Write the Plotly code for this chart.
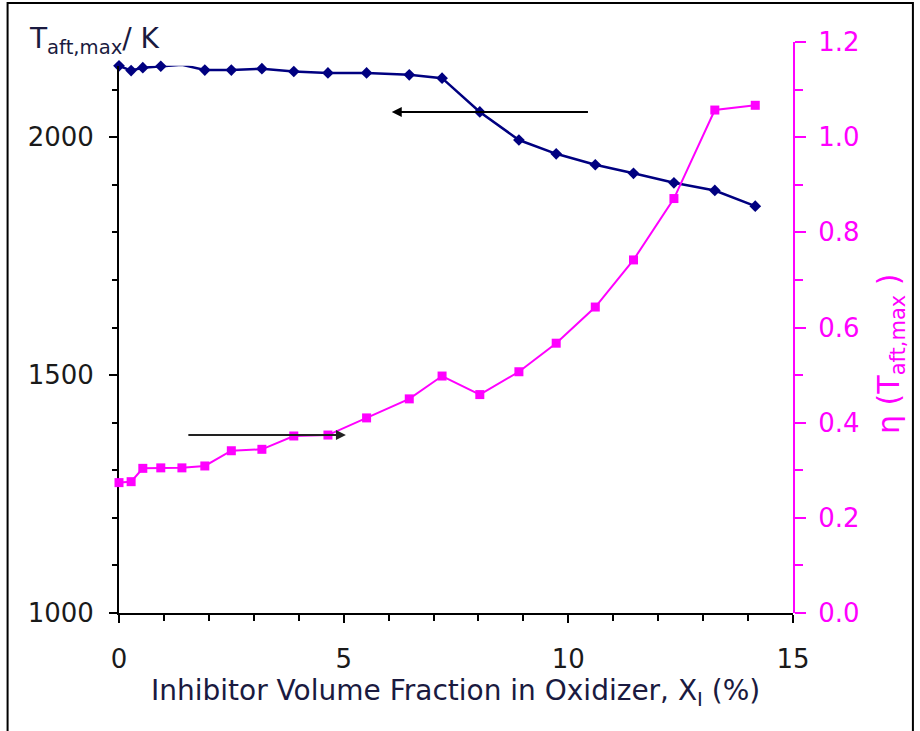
import plotly.graph_objects as go

# ---- data ----
x_inhib = [0, 0.27, 0.53, 0.93, 1.4, 1.91, 2.5, 3.18, 3.89, 4.65, 5.51,
           6.46, 7.19, 8.03, 8.9, 9.73, 10.6, 11.45, 12.35, 13.26, 14.16]
t_aft_max = [2150, 2140, 2146, 2149, 2152, 2141, 2141, 2144, 2138, 2135, 2135,
             2131, 2124, 2053, 1994, 1965, 1942, 1924, 1904, 1888, 1855]
eta = [0.274, 0.276, 0.304, 0.305, 0.305, 0.309, 0.341, 0.344, 0.372, 0.374, 0.41,
       0.45, 0.498, 0.459, 0.507, 0.567, 0.643, 0.742, 0.871, 1.057, 1.067]

# arrows: (tail x, head x, level)
arrow_T = (10.47, 6.07, 2053)
arrow_eta = (1.51, 5.05, 0.374)

NAVY = "#000080"
MAG = "#FF00FF"
FONT = "DejaVu Sans"

fig = go.Figure()
fig.add_trace(go.Scatter(x=x_inhib, y=t_aft_max, mode="lines+markers", yaxis="y",
                         line=dict(color=NAVY, width=2.5),
                         marker=dict(symbol="diamond", size=9, color=NAVY),
                         cliponaxis=False, showlegend=False))
fig.add_trace(go.Scatter(x=x_inhib, y=eta, mode="lines+markers", yaxis="y2",
                         line=dict(color=MAG, width=2),
                         marker=dict(symbol="square", size=9, color=MAG),
                         cliponaxis=False, showlegend=False))

L, R, T, B = 118.5, 127, 42, 118
W, H = 920, 731
pw = W - L - R
ph = H - T - B

def px2x(px):
    return (px - L) / pw

def py2y(py):
    return (H - B - py) / ph

fig.update_layout(
    width=W, height=H,
    margin=dict(l=L, r=R, t=T, b=B, pad=0),
    paper_bgcolor="white", plot_bgcolor="rgba(0,0,0,0)",
    font=dict(family=FONT, size=26, color="#1a1a1a"),
    xaxis=dict(range=[0, 15], dtick=5, tick0=0, showgrid=False, zeroline=False,
               showline=True, linecolor="black", linewidth=2,
               ticks="outside", ticklen=8, tickwidth=2, tickcolor="black",
               ticklabelstandoff=14,
               minor=dict(dtick=1, ticks="outside", ticklen=6, tickwidth=2, tickcolor="black"),
               tickfont=dict(size=26, color="#1a1a1a")),
    yaxis=dict(range=[1000, 2150], domain=[0, 1150 / 1200], anchor="x",
               tickvals=[1000, 1500, 2000], showgrid=False, zeroline=False,
               showline=True, linecolor="black", linewidth=2,
               ticks="outside", ticklen=8, tickwidth=2, tickcolor="black",
               ticklabelstandoff=10,
               minor=dict(dtick=100, tick0=1000, ticks="outside", ticklen=5,
                          tickwidth=2, tickcolor="black"),
               tickfont=dict(size=26, color="#1a1a1a")),
    yaxis2=dict(range=[0, 1.2], domain=[0, 1], anchor="x", side="right",
                dtick=0.2, tick0=0, tickformat=".1f", showgrid=False, zeroline=False,
                showline=True, linecolor=MAG, linewidth=2,
                ticks="outside", ticklen=11, tickwidth=2, tickcolor=MAG,
                ticklabelstandoff=7,
                minor=dict(dtick=0.1, ticks="outside", ticklen=8, tickwidth=2, tickcolor=MAG),
                tickfont=dict(size=26, color=MAG)),
)

# arrows
fig.add_annotation(x=arrow_T[1], y=arrow_T[2], ax=arrow_T[0], ay=arrow_T[2],
                   xref="x", yref="y", axref="x", ayref="y", text="",
                   showarrow=True, arrowhead=2, arrowsize=1, arrowwidth=2,
                   arrowcolor="black")
fig.add_annotation(x=arrow_eta[1], y=arrow_eta[2], ax=arrow_eta[0], ay=arrow_eta[2],
                   xref="x", yref="y2", axref="x", ayref="y2", text="",
                   showarrow=True, arrowhead=2, arrowsize=1, arrowwidth=2,
                   arrowcolor="#222222")

# titles
fig.add_annotation(text="T<sub>aft,max</sub>/ K", xref="paper", yref="paper",
                   x=px2x(26), y=py2y(40), xanchor="left", yanchor="middle",
                   showarrow=False, font=dict(size=28, color="#1a1a40", family=FONT))
fig.add_annotation(text="η (T<sub>aft,max</sub> )", xref="paper", yref="paper",
                   x=px2x(891), y=py2y(354), xanchor="center", yanchor="middle",
                   textangle=-90, showarrow=False,
                   font=dict(size=30, color=MAG, family=FONT))
fig.add_annotation(text="Inhibitor Volume Fraction in Oxidizer, X<sub>I</sub> (%)",
                   xref="paper", yref="paper", x=px2x(455), y=py2y(692),
                   xanchor="center", yanchor="middle", showarrow=False,
                   font=dict(size=28, color="#1a1a40", family=FONT))

# outer frame
fig.add_shape(type="rect", xref="paper", yref="paper",
              x0=px2x(7), x1=px2x(913), y0=py2y(740), y1=py2y(3),
              line=dict(color="black", width=2), fillcolor="rgba(0,0,0,0)")

fig.write_html("out.html")
